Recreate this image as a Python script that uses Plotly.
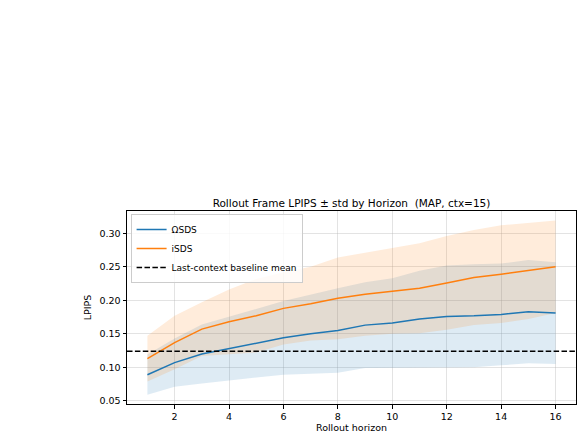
import plotly.graph_objects as go

horizon = list(range(1, 17))
omega_mean = [0.089, 0.107, 0.120, 0.128, 0.136, 0.144, 0.150, 0.155, 0.163, 0.166, 0.172, 0.176, 0.177, 0.179, 0.183, 0.181]
omega_std = [0.030, 0.036, 0.044, 0.047, 0.051, 0.055, 0.059, 0.063, 0.064, 0.067, 0.072, 0.076, 0.077, 0.076, 0.077, 0.076]
isds_mean = [0.113, 0.137, 0.157, 0.168, 0.177, 0.188, 0.195, 0.203, 0.209, 0.214, 0.218, 0.226, 0.234, 0.239, 0.244, 0.250]
isds_std = [0.034, 0.040, 0.040, 0.048, 0.055, 0.054, 0.055, 0.061, 0.062, 0.064, 0.067, 0.070, 0.071, 0.073, 0.072, 0.069]
baseline_mean = 0.124
x_ticks = [2, 4, 6, 8, 10, 12, 14, 16]
y_ticks = [0.05, 0.10, 0.15, 0.20, 0.25, 0.30]

BLUE = "#1f77b4"
ORANGE = "#ff7f0e"
FONT = "DejaVu Sans"
DASH = "5.5px,2.4px"

fig = go.Figure()

def band(mean, std, color_rgba):
    up = [m + s for m, s in zip(mean, std)]
    lo = [m - s for m, s in zip(mean, std)]
    fig.add_trace(go.Scatter(x=horizon, y=up, mode="lines", line=dict(width=0),
                             showlegend=False, hoverinfo="skip"))
    fig.add_trace(go.Scatter(x=horizon, y=lo, mode="lines", line=dict(width=0),
                             fill="tonexty", fillcolor=color_rgba,
                             showlegend=False, hoverinfo="skip"))

band(omega_mean, omega_std, "rgba(31,119,180,0.15)")
band(isds_mean, isds_std, "rgba(255,127,14,0.15)")
fig.add_trace(go.Scatter(x=horizon, y=omega_mean, mode="lines", name="ΩSDS",
                         line=dict(color=BLUE, width=1.5)))
fig.add_trace(go.Scatter(x=horizon, y=isds_mean, mode="lines", name="iSDS",
                         line=dict(color=ORANGE, width=1.5)))
# legend entry for the baseline (the line itself is drawn as a full-width shape)
fig.add_trace(go.Scatter(x=[None], y=[None], mode="lines", name="Last-context baseline mean",
                         line=dict(color="black", width=1.5, dash=DASH)))

fig.add_shape(type="line", xref="paper", x0=0, x1=1, yref="y",
              y0=baseline_mean, y1=baseline_mean,
              line=dict(color="black", width=1.5, dash=DASH))

axis_common = dict(
    showline=True, linecolor="black", linewidth=1, mirror=True,
    ticks="outside", ticklen=3.5, tickwidth=1, tickcolor="black",
    showgrid=True, gridcolor="rgba(176,176,176,0.35)", gridwidth=1,
    zeroline=False, automargin=False,
    tickfont=dict(family=FONT, size=9.5, color="black"),
)

fig.update_xaxes(range=[0.25, 16.75], tickvals=x_ticks,
                 title=dict(text="Rollout horizon", font=dict(family=FONT, size=9.5, color="black"), standoff=1),
                 **axis_common)
fig.update_yaxes(range=[0.0453, 0.3333], tickvals=y_ticks, tickformat=".2f",
                 title=dict(text="LPIPS", font=dict(family=FONT, size=9.5, color="black"), standoff=6),
                 **axis_common)

fig.update_layout(
    width=583, height=436,
    margin=dict(l=127, r=7, t=211, b=32),
    paper_bgcolor="white", plot_bgcolor="white",
    title=dict(text="Rollout Frame LPIPS ± std by Horizon  (MAP, ctx=15)",
               font=dict(family=FONT, size=10.5, color="black"),
               x=351.5 / 583, xanchor="center",
               y=1 - 203 / 436, yanchor="middle"),
    legend=dict(x=0.008, y=0.985, xanchor="left", yanchor="top",
                bgcolor="rgba(255,255,255,0.8)", bordercolor="#cccccc", borderwidth=1,
                font=dict(family=FONT, size=9, color="black"),
                traceorder="normal", tracegroupgap=0, itemwidth=30),
    showlegend=True,
)

fig.write_html("out.html")
